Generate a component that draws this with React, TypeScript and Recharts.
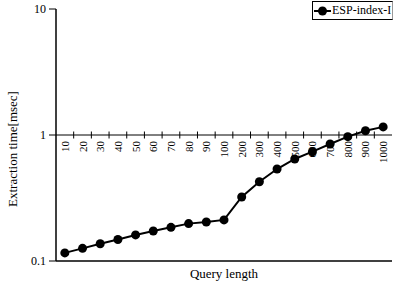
import { Line, LineChart, ReferenceDot, ReferenceLine, XAxis, YAxis, Label } from "recharts";

const lengths = ["10", "20", "30", "40", "50", "60", "70", "80", "90", "100", "200", "300", "400", "500", "600", "700", "800", "900", "1000"];
const times = [0.116, 0.126, 0.137, 0.148, 0.161, 0.173, 0.185, 0.198, 0.204, 0.212, 0.322, 0.426, 0.537, 0.645, 0.737, 0.848, 0.97, 1.08, 1.16];
const yTicks = [0.1, 1, 10];

const FONT = "'Liberation Serif', 'Times New Roman', serif";

const data = lengths.map((len, i) => ({ idx: i + 1, len, t: times[i] }));
// category boundaries, where the small ticks on the y=1 line sit
const bounds = lengths.slice(1).map((_, i) => i + 1.5);

export default function App() {
  return (
    <div style={{ position: "absolute", left: 0, top: 0, width: 399, height: 285, fontFamily: FONT }}>
      <LineChart width={399} height={285} data={data} margin={{ top: 9, right: 7, left: 0, bottom: 0 }}>
        <XAxis
          dataKey="idx"
          type="number"
          domain={[0.5, 19.5]}
          tick={false}
          tickLine={false}
          axisLine={{ stroke: "#000", strokeWidth: 1.5 }}
          height={24}
        >
          <Label
            content={({ viewBox }: any) => (
              <text
                x={viewBox.x + viewBox.width / 2}
                y={viewBox.y + 12}
                textAnchor="middle"
                dominantBaseline="central"
                fontSize={13}
                fontFamily={FONT}
                fill="#000"
              >
                Query length
              </text>
            )}
          />
        </XAxis>
        <XAxis xAxisId="top" orientation="top" dataKey="idx" type="number" domain={[0.5, 19.5]} height={0} tick={false} tickLine={false} axisLine={{ stroke: "#000", strokeWidth: 1.5 }} />
        <YAxis
          scale="log"
          domain={[0.1, 10]}
          ticks={yTicks}
          allowDataOverflow
          width={56}
          tickSize={7}
          tickMargin={3}
          tickFormatter={(v: number) => String(v)}
          tick={{ fill: "#000", fontSize: 12, fontFamily: FONT }}
          tickLine={{ stroke: "#000" }}
          axisLine={{ stroke: "#000", strokeWidth: 1.5 }}
        >
          <Label
            content={({ viewBox }: any) => {
              const cx = viewBox.x + 12;
              const cy = viewBox.y + viewBox.height / 2 + 14;
              return (
                <text
                  x={cx}
                  y={cy}
                  transform={`rotate(-90 ${cx} ${cy})`}
                  textAnchor="middle"
                  dominantBaseline="central"
                  fontSize={13}
                  fontFamily={FONT}
                  fill="#000"
                >
                  Extraction time[msec]
                </text>
              );
            }}
          />
        </YAxis>
        <YAxis yAxisId="right" orientation="right" width={0} tick={false} tickLine={false} axisLine={{ stroke: "#999", strokeWidth: 1.5 }} />
        <ReferenceLine y={1} stroke="#000" strokeWidth={1} />
        {bounds.map((b) => (
          <ReferenceDot
            key={`b${b}`}
            x={b}
            y={1}
            r={0}
            shape={(p: any) => <line x1={p.cx} x2={p.cx} y1={p.cy - 3.5} y2={p.cy + 3.5} stroke="#000" strokeWidth={1} />}
          />
        ))}
        {data.map((d) => (
          <ReferenceDot
            key={`l${d.idx}`}
            x={d.idx}
            y={1}
            r={0}
            shape={(p: any) => (
              <text
                x={p.cx}
                y={p.cy + 6}
                transform={`rotate(-90 ${p.cx} ${p.cy + 6})`}
                textAnchor="end"
                dominantBaseline="central"
                fontSize={11}
                fontFamily={FONT}
                fill="#000"
              >
                {d.len}
              </text>
            )}
          />
        ))}
        <Line
          dataKey="t"
          stroke="#000"
          strokeWidth={2}
          dot={{ r: 4.5, fill: "#000", stroke: "#000", strokeWidth: 0 }}
          isAnimationActive={false}
        />
      </LineChart>
      <div
        style={{
          position: "absolute",
          left: 312,
          top: 1,
          height: 19,
          boxSizing: "border-box",
          border: "1px solid #000",
          borderRight: "1.5px solid #999",
          background: "#fff",
          display: "flex",
          alignItems: "center",
          paddingRight: 1,
          fontSize: 12,
          fontFamily: FONT,
          lineHeight: "17px",
        }}
      >
        <svg width={19} height={12} style={{ flex: "none" }}>
          <line x1={1} x2={18} y1={6} y2={6} stroke="#000" strokeWidth={2} />
          <circle cx={9.5} cy={6} r={4.5} fill="#000" />
        </svg>
        <span style={{ whiteSpace: "nowrap" }}>ESP-index-I</span>
      </div>
    </div>
  );
}
